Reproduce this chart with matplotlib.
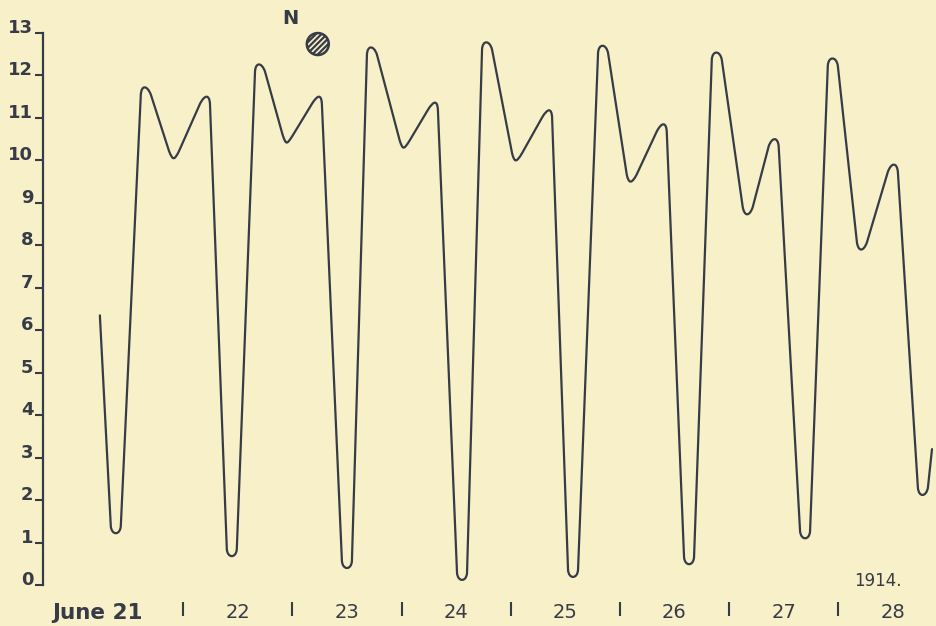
import matplotlib
matplotlib.use("Agg")
import matplotlib.pyplot as plt
from matplotlib.path import Path
from matplotlib.patches import PathPatch

# tide height (ft) at the turning points, hours counted from June 21 0h
hours = [5.7, 9.2, 15.8, 22.0, 28.8, 34.7, 40.9, 47.0, 53.4, 60.0, 65.5,
         72.7, 78.9, 85.3, 90.8, 97.4, 104.0, 109.7, 116.3, 122.6, 129.2,
         135.2, 141.3, 148.1, 153.8, 160.7, 166.8, 173.2, 180.0, 186.6, 188.6]
heights = [6.35, 1.22, 11.72, 10.05, 11.5, 0.68, 12.26, 10.42, 11.5, 0.40,
           12.66, 10.3, 11.36, 0.12, 12.78, 10.0, 11.18, 0.19, 12.7, 9.5,
           10.85, 0.49, 12.54, 8.73, 10.5, 1.1, 12.4, 7.9, 9.9, 2.12, 3.2]

day_labels = ["June 21", "22", "23", "24", "25", "26", "27", "28"]
y_ticks = list(range(0, 14))
new_moon = (53.6, 12.74)
year_label = "1914."

BG = "#f7f0c9"
INK = "#373b46"

fig = plt.figure(figsize=(9.37, 6.26), dpi=100, facecolor=BG)
ax = fig.add_axes([43 / 937, 41 / 626, 1 - 43 / 937, 552 / 626], facecolor=BG)
ax.set_xlim(-6.8, 189.7)
ax.set_ylim(0, 13)

# the trace: straight runs joined by rounded caps at each turn
w, r = 1.1, 0.17
verts = [(hours[0], heights[0])]
codes = [Path.MOVETO]
for i in range(1, len(hours) - 1):
    t, v = hours[i], heights[i]
    s = 1 if v < heights[i - 1] else -1
    # slope (hours per foot) of the runs into and out of the turn
    k_in = abs(t - hours[i - 1]) / abs(v - heights[i - 1])
    k_out = abs(hours[i + 1] - t) / abs(heights[i + 1] - v)
    d = 4 * r / 3
    verts += [(t - w, v + s * r), (t - w + d * k_in, v - s * r / 3),
              (t + w - d * k_out, v - s * r / 3), (t + w, v + s * r)]
    codes += [Path.LINETO, Path.CURVE4, Path.CURVE4, Path.CURVE4]
verts.append((hours[-1], heights[-1]))
codes.append(Path.LINETO)
ax.add_patch(PathPatch(Path(verts, codes), fill=False, edgecolor=INK,
                       lw=1.6, joinstyle="round", capstyle="round",
                       clip_on=False))

for side in ["top", "right", "bottom"]:
    ax.spines[side].set_visible(False)
ax.spines["left"].set_linewidth(1.6)
ax.spines["left"].set_color(INK)

ax.set_yticks(y_ticks)
ax.set_yticklabels([str(v) for v in y_ticks], fontsize=13, fontweight="bold",
                   color=INK)
ax.tick_params(axis="y", direction="out", length=6, width=1.5, color=INK, pad=1)
for lab in ax.get_yticklabels():
    lab.set_verticalalignment("baseline")

# day separators below the trace
ax.spines["bottom"].set_position(("outward", 12))
ax.set_xticks([24 * k for k in range(1, 8)])
ax.set_xticklabels([])
ax.tick_params(axis="x", direction="out", length=10, width=1.5, color=INK)

lab_tr = ax.get_xaxis_transform()
for k, lab in enumerate(day_labels):
    if k == 0:
        ax.text(15.2, -0.05, lab, transform=lab_tr, ha="right", va="center",
                fontsize=15.5, color=INK, fontweight="bold")
    else:
        ax.text(12 + 24 * k, -0.05, lab, transform=lab_tr, ha="center",
                va="center", fontsize=14, color=INK)

ax.text(176.6, 0.1, year_label, ha="center", va="center", fontsize=12,
        color=INK)

# new moon marker
ax.text(47.5, 13.35, "N", ha="center", va="center", fontsize=14,
        fontweight="bold", color=INK, clip_on=False)
plt.rcParams["hatch.linewidth"] = 1.6
ax.scatter([new_moon[0]], [new_moon[1]], s=250, facecolor=BG, edgecolor=INK,
           linewidths=1.8, hatch="//////", zorder=3, clip_on=False)

fig.savefig("out.png", dpi=100, facecolor=BG)
